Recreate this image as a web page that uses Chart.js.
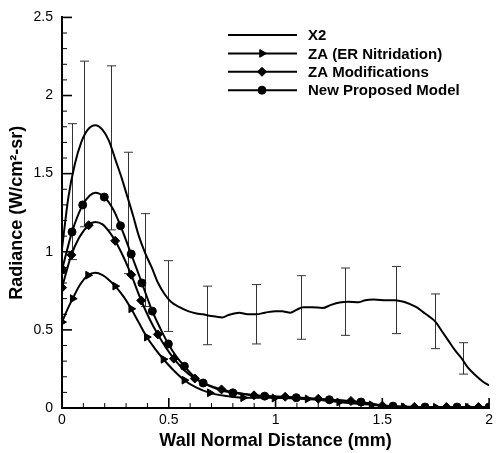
<!DOCTYPE html>
<html>
<head>
<meta charset="utf-8">
<title>Radiance</title>
<script src="https://cdn.jsdelivr.net/npm/chart.js@4.4.1/dist/chart.umd.min.js"></script>
<style>
  html, body { margin: 0; padding: 0; background: #fff; }
  canvas { display: block; }
</style>
</head>
<body>
<canvas id="grafico" width="497" height="453"></canvas>
<script>
// etiquetas de los ejes
const xTicks = [0, 0.5, 1, 1.5, 2];
const yTicks = [0, 0.5, 1, 1.5, 2, 2.5];

// X2 (solo linea)
const x2X = [0, 0.03, 0.06, 0.09, 0.12, 0.156, 0.19, 0.22, 0.25, 0.28, 0.30, 0.33, 0.36, 0.39, 0.42,
  0.45, 0.48, 0.51, 0.55, 0.59, 0.63, 0.66, 0.69, 0.72, 0.75, 0.78, 0.83, 0.87, 0.91, 0.95,
  1.0, 1.03, 1.07, 1.10, 1.13, 1.17, 1.22, 1.26, 1.30, 1.34, 1.39, 1.42, 1.46, 1.52, 1.56,
  1.60, 1.63, 1.66, 1.69, 1.72, 1.75, 1.78, 1.81, 1.84, 1.87, 1.90, 1.94, 1.97, 2.0];
const x2Y = [1.02, 1.35, 1.56, 1.70, 1.78, 1.81, 1.78, 1.71, 1.59, 1.47, 1.38, 1.245, 1.10, 0.99, 0.90,
  0.80, 0.73, 0.68, 0.645, 0.62, 0.605, 0.60, 0.59, 0.585, 0.58, 0.595, 0.61, 0.60, 0.60, 0.61,
  0.62, 0.62, 0.61, 0.63, 0.645, 0.645, 0.64, 0.66, 0.675, 0.68, 0.677, 0.69, 0.694, 0.69, 0.69,
  0.68, 0.665, 0.645, 0.615, 0.585, 0.55, 0.49, 0.43, 0.37, 0.32, 0.26, 0.205, 0.17, 0.145];

// ZA (ER Nitridation) - triangulos
const zaX = [0, 0.025, 0.05, 0.085, 0.122, 0.156, 0.19, 0.22, 0.249, 0.29, 0.324, 0.36, 0.397, 0.435, 0.475,
  0.52, 0.573, 0.63, 0.692, 0.77, 0.848, 0.92, 0.995, 1.07, 1.15, 1.22, 1.298, 1.37, 1.45, 1.52,
  1.60, 1.75, 1.90, 2.0];
const zaY = [0.55, 0.63, 0.70, 0.79, 0.85, 0.865, 0.85, 0.82, 0.78, 0.71, 0.635, 0.545, 0.454, 0.38, 0.312,
  0.245, 0.178, 0.13, 0.097, 0.077, 0.066, 0.066, 0.064, 0.062, 0.058, 0.05, 0.038, 0.028, 0.02, 0.012,
  0.007, 0.005, 0.005, 0.005];
const zaMarks = [1, 0, 1, 0, 1, 0, 0, 0, 1, 0, 1, 0, 1, 0, 1,
  0, 1, 0, 1, 0, 1, 0, 1, 0, 1, 0, 1, 0, 1, 0,
  1, 1, 1, 0];

// ZA Modifications - rombos
const zmX = [0, 0.044, 0.08, 0.125, 0.156, 0.19, 0.22, 0.249, 0.29, 0.324, 0.371, 0.41, 0.449, 0.49, 0.524,
  0.57, 0.622, 0.68, 0.747, 0.82, 0.899, 0.97, 1.045, 1.12, 1.2, 1.28, 1.353, 1.43, 1.5, 1.65,
  1.80, 1.95, 2.0];
const zmY = [0.77, 0.98, 1.09, 1.17, 1.19, 1.175, 1.13, 1.07, 0.96, 0.853, 0.688, 0.57, 0.471, 0.38, 0.316,
  0.245, 0.189, 0.15, 0.119, 0.097, 0.081, 0.075, 0.072, 0.066, 0.059, 0.052, 0.045, 0.03, 0.015, 0.007,
  0.006, 0.006, 0.006];
const zmMarks = [1, 1, 0, 1, 0, 0, 0, 1, 0, 1, 1, 0, 1, 0, 1,
  0, 1, 0, 1, 0, 1, 0, 1, 0, 1, 0, 1, 0, 1, 1,
  1, 1, 0];

// New Proposed Model - circulos
const npX = [0, 0.047, 0.097, 0.13, 0.156, 0.198, 0.24, 0.274, 0.324, 0.374, 0.423, 0.46, 0.498, 0.535, 0.573,
  0.615, 0.661, 0.73, 0.80, 0.875, 0.949, 1.02, 1.097, 1.17, 1.252, 1.33, 1.40, 1.47, 1.55, 1.70,
  1.85, 2.0];
const npY = [0.883, 1.127, 1.30, 1.36, 1.378, 1.35, 1.27, 1.166, 0.985, 0.80, 0.62, 0.51, 0.41, 0.33, 0.267,
  0.205, 0.16, 0.12, 0.097, 0.085, 0.076, 0.07, 0.066, 0.06, 0.053, 0.045, 0.038, 0.022, 0.012, 0.006,
  0.006, 0.006];
const npMarks = [1, 1, 1, 0, 0, 1, 0, 1, 1, 1, 1, 0, 1, 0, 1,
  0, 1, 0, 1, 0, 1, 0, 1, 0, 1, 0, 1, 0, 1, 1,
  1, 1];

// barras de error (experimental)
const errX = [0.047, 0.102, 0.231, 0.311, 0.389, 0.498, 0.677, 0.91, 1.12, 1.326, 1.563, 1.746, 1.876];
const errLo = [0.95, 1.16, 1.14, 0.86, 0.65, 0.49, 0.405, 0.41, 0.44, 0.465, 0.476, 0.38, 0.217];
const errHi = [1.82, 2.22, 2.19, 1.637, 1.244, 0.943, 0.78, 0.79, 0.847, 0.896, 0.906, 0.73, 0.418];

const fuente = "Arial, 'Liberation Sans', Helvetica, sans-serif";

const puntos = (xs, ys) => xs.map((x, i) => ({ x: x, y: ys[i] }));

const serie = (label, xs, ys, marks, estilo, radio, giro) => ({
  label: label,
  data: puntos(xs, ys),
  showLine: true,
  borderColor: '#000',
  backgroundColor: '#000',
  borderWidth: 2,
  cubicInterpolationMode: 'monotone',
  pointStyle: estilo,
  pointRotation: giro || 0,
  pointBorderWidth: 1,
  pointRadius: marks ? (ctx => marks[ctx.dataIndex] ? radio : 0) : 0,
  pointHoverRadius: 0,
  legendRadius: radio
});

// barras de error con los ejes del grafico
const barrasPlugin = {
  id: 'barras',
  beforeDatasetsDraw(chart) {
    const { ctx, scales: { x, y } } = chart;
    ctx.save();
    ctx.strokeStyle = '#333';
    ctx.lineWidth = 1;
    errX.forEach((v, i) => {
      const px = Math.round(x.getPixelForValue(v)) + 0.5;
      const y1 = y.getPixelForValue(errLo[i]);
      const y2 = y.getPixelForValue(errHi[i]);
      ctx.beginPath();
      ctx.moveTo(px, y1); ctx.lineTo(px, y2);
      ctx.moveTo(px - 4.5, y1); ctx.lineTo(px + 4.5, y1);
      ctx.moveTo(px - 4.5, y2); ctx.lineTo(px + 4.5, y2);
      ctx.stroke();
    });
    ctx.restore();
  }
};

// marcas hacia adentro (mayores cada 0.5, menores cada 0.1)
const marcasPlugin = {
  id: 'marcas',
  afterDatasetsDraw(chart) {
    const { ctx, chartArea: a, scales: { x, y } } = chart;
    ctx.save();
    ctx.strokeStyle = '#000';
    for (let i = 0; i <= Math.round(x.max * 10); i++) {
      const px = x.getPixelForValue(i / 10);
      const mayor = i % 5 === 0;
      ctx.lineWidth = mayor ? 1.6 : 1;
      ctx.beginPath();
      ctx.moveTo(px, a.bottom); ctx.lineTo(px, a.bottom - (mayor ? 10 : 5));
      ctx.stroke();
    }
    for (let i = 0; i <= Math.round(y.max * 10); i++) {
      const py = y.getPixelForValue(i / 10);
      const mayor = i % 5 === 0;
      ctx.lineWidth = mayor ? 1.6 : 1;
      ctx.beginPath();
      ctx.moveTo(a.left, py); ctx.lineTo(a.left + (mayor ? 10 : 5), py);
      ctx.stroke();
    }
    ctx.restore();
  }
};

// leyenda con linea + simbolo
const leyendaPlugin = {
  id: 'leyenda',
  afterDraw(chart) {
    const ctx = chart.ctx;
    ctx.save();
    ctx.font = "bold 15px " + fuente;
    ctx.textBaseline = 'middle';
    ctx.textAlign = 'left';
    chart.data.datasets.forEach((ds, i) => {
      const yy = 35 + i * 18.4;
      ctx.strokeStyle = '#000';
      ctx.fillStyle = '#000';
      ctx.lineWidth = 2;
      ctx.beginPath();
      ctx.moveTo(228, yy); ctx.lineTo(297, yy);
      ctx.stroke();
      if (ds.pointStyle) {
        ctx.lineWidth = 1;
        Chart.helpers.drawPoint(ctx, {
          pointStyle: ds.pointStyle, rotation: ds.pointRotation, radius: ds.legendRadius, borderWidth: 1
        }, 262, yy);
      }
      ctx.fillText(ds.label, 308, yy + 1);
    });
    ctx.restore();
  }
};

const etiqueta = v => String(v);

new Chart(document.getElementById('grafico'), {
  type: 'scatter',
  data: {
    datasets: [
      serie('X2', x2X, x2Y, null, false, 0),
      serie('ZA (ER Nitridation)', zaX, zaY, zaMarks, 'triangle', 4.5, 90),
      serie('ZA Modifications', zmX, zmY, zmMarks, 'rectRot', 4.5),
      serie('New Proposed Model', npX, npY, npMarks, 'circle', 4)
    ]
  },
  options: {
    responsive: false,
    animation: false,
    devicePixelRatio: 1,
    layout: { padding: { top: 15, right: 6, left: 0, bottom: 0 } },
    plugins: {
      legend: { display: false },
      tooltip: { enabled: false }
    },
    scales: {
      x: {
        type: 'linear',
        min: 0,
        max: 2,
        afterBuildTicks: s => { s.ticks = xTicks.map(v => ({ value: v })); },
        afterFit: s => { s.height = 45; },
        grid: { display: false, drawTicks: false },
        border: { display: true, color: '#000', width: 2 },
        ticks: { color: '#000', font: { family: fuente, size: 14 }, padding: 4, maxRotation: 0, callback: etiqueta },
        title: {
          display: true,
          text: 'Wall Normal Distance (mm)',
          color: '#000',
          font: { family: fuente, size: 18, weight: 'bold' },
          padding: { top: 0, bottom: 1 }
        }
      },
      y: {
        type: 'linear',
        min: 0,
        max: 2.5,
        afterBuildTicks: s => { s.ticks = yTicks.map(v => ({ value: v })); },
        afterFit: s => { s.width = 62; },
        grid: { display: false, drawTicks: false },
        border: { display: true, color: '#000', width: 2 },
        ticks: { color: '#000', font: { family: fuente, size: 14 }, padding: 9, callback: etiqueta },
        title: {
          display: true,
          text: 'Radiance (W/cm²-sr)',
          color: '#000',
          font: { family: fuente, size: 18, weight: 'bold' },
          padding: { top: 6, bottom: 0 }
        }
      }
    }
  },
  plugins: [barrasPlugin, marcasPlugin, leyendaPlugin]
});
</script>
</body>
</html>
